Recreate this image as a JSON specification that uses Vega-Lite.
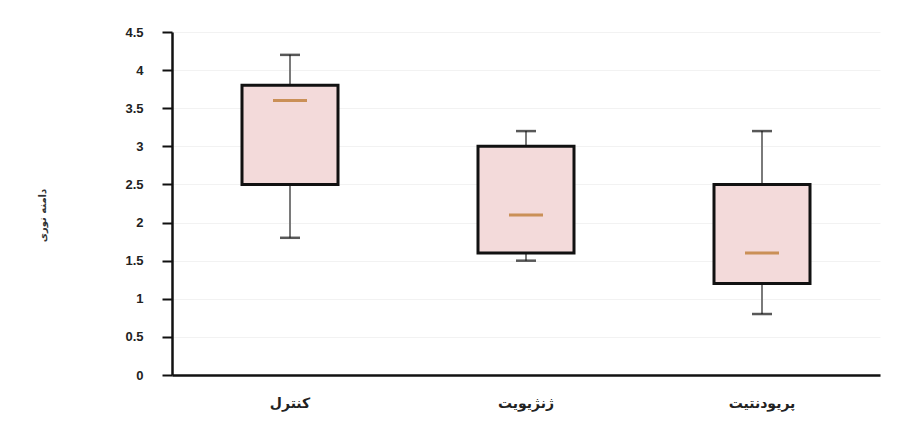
{
  "$schema": "https://vega.github.io/schema/vega-lite/v6.json",
  "width": 708,
  "height": 343,
  "autosize": "none",
  "padding": {"left": 172, "top": 32, "right": 28, "bottom": 61},
  "background": "white",
  "config": {
    "view": {"stroke": null},
    "font": "DejaVu Sans",
    "axisY": {
      "titleFont": "DejaVu Sans",
      "titleFontSize": 10,
      "titleFontWeight": "bold",
      "titleColor": "#333",
      "titleX": -125,
      "titleY": 183,
      "labelFont": "Liberation Sans",
      "labelFontSize": 13,
      "labelFontWeight": "bold",
      "labelColor": "#222",
      "labelPadding": 19,
      "labelOverlap": false,
      "tickSize": 10,
      "tickWidth": 2,
      "tickColor": "#111",
      "domainColor": "#111",
      "domainWidth": 2.5,
      "grid": true,
      "gridColor": "#f2f2f2",
      "gridWidth": 1
    }
  },
  "data": {
    "values": [
      {"group": "کنترل", "min": 1.8, "q1": 2.5, "median": 3.6, "q3": 3.8, "max": 4.2},
      {"group": "ژنژیویت", "min": 1.5, "q1": 1.6, "median": 2.1, "q3": 3.0, "max": 3.2},
      {"group": "پریودنتیت", "min": 0.8, "q1": 1.2, "median": 1.6, "q3": 2.5, "max": 3.2}
    ]
  },
  "encoding": {
    "x": {
      "field": "group",
      "type": "nominal",
      "sort": null,
      "scale": {"paddingInner": 0, "paddingOuter": 0},
      "axis": {
        "title": null,
        "labelAngle": 0,
        "labelFont": "DejaVu Sans",
        "labelFontSize": 14,
        "labelFontWeight": "bold",
        "labelColor": "#222",
        "labelPadding": 21,
        "ticks": false,
        "domainColor": "#111",
        "domainWidth": 2.5,
        "grid": false
      }
    }
  },
  "layer": [
    {
      "mark": {"type": "rule", "color": "#7a7a7a", "strokeWidth": 2},
      "encoding": {
        "y": {
          "field": "min",
          "type": "quantitative",
          "scale": {"domain": [0, 4.5], "nice": false},
          "axis": {"values": [0, 0.5, 1, 1.5, 2, 2.5, 3, 3.5, 4, 4.5], "format": "~g", "title": "دامنه نوری"}
        },
        "y2": {"field": "max"}
      }
    },
    {
      "mark": {"type": "tick", "color": "#111", "size": 20, "thickness": 2.5},
      "encoding": {"y": {"field": "min", "type": "quantitative", "axis": {"values": [0, 0.5, 1, 1.5, 2, 2.5, 3, 3.5, 4, 4.5], "format": "~g", "title": "دامنه نوری"}}}
    },
    {
      "mark": {"type": "tick", "color": "#111", "size": 20, "thickness": 2.5},
      "encoding": {"y": {"field": "max", "type": "quantitative", "axis": {"values": [0, 0.5, 1, 1.5, 2, 2.5, 3, 3.5, 4, 4.5], "format": "~g", "title": "دامنه نوری"}}}
    },
    {
      "mark": {"type": "bar", "width": 96, "fill": "#f3dada", "stroke": "#111", "strokeWidth": 3},
      "encoding": {
        "y": {"field": "q1", "type": "quantitative", "axis": {"values": [0, 0.5, 1, 1.5, 2, 2.5, 3, 3.5, 4, 4.5], "format": "~g", "title": "دامنه نوری"}},
        "y2": {"field": "q3"}
      }
    },
    {
      "mark": {"type": "tick", "color": "#b8711f", "size": 34, "thickness": 3},
      "encoding": {"y": {"field": "median", "type": "quantitative", "axis": {"values": [0, 0.5, 1, 1.5, 2, 2.5, 3, 3.5, 4, 4.5], "format": "~g", "title": "دامنه نوری"}}}
    }
  ]
}
